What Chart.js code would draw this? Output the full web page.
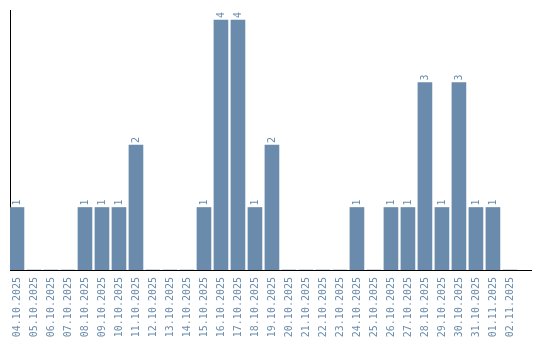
<!DOCTYPE html>
<html>
<head>
<meta charset="utf-8">
<script src="https://cdn.jsdelivr.net/npm/chart.js@4"></script>
<style>
  html, body { margin: 0; padding: 0; background: #fff; }
  #wrap { width: 540px; height: 340px; }
</style>
</head>
<body>
<div id="wrap"><canvas id="dayChart" width="540" height="340"></canvas></div>
<script>
const days = [
  "04.10.2025", "05.10.2025", "06.10.2025", "07.10.2025", "08.10.2025",
  "09.10.2025", "10.10.2025", "11.10.2025", "12.10.2025", "13.10.2025",
  "14.10.2025", "15.10.2025", "16.10.2025", "17.10.2025", "18.10.2025",
  "19.10.2025", "20.10.2025", "21.10.2025", "22.10.2025", "23.10.2025",
  "24.10.2025", "25.10.2025", "26.10.2025", "27.10.2025", "28.10.2025",
  "29.10.2025", "30.10.2025", "31.10.2025", "01.11.2025", "02.11.2025"
];
const counts = [
  1, 0, 0, 0, 1, 1, 1, 2, 0, 0,
  0, 1, 4, 4, 1, 2, 0, 0, 0, 0,
  1, 0, 1, 1, 3, 1, 3, 1, 1, 0
];

const barColor = "#6a8bab";
const textColor = "#6b8cac";
const monoFont = "'DejaVu Sans Mono', 'Liberation Mono', monospace";

// value labels above bars, rotated like the date labels
const valueLabels = {
  id: "valueLabels",
  afterDatasetsDraw(chart) {
    const ctx = chart.ctx;
    const meta = chart.getDatasetMeta(0);
    ctx.save();
    ctx.fillStyle = textColor;
    ctx.font = "10px " + monoFont;
    ctx.textAlign = "left";
    ctx.textBaseline = "middle";
    meta.data.forEach((bar, i) => {
      if (!counts[i]) return;
      ctx.save();
      ctx.translate(bar.x, bar.y - 2);
      ctx.rotate(-Math.PI / 2);
      ctx.fillText(String(counts[i]), 0, 0);
      ctx.restore();
    });
    ctx.restore();
  }
};

const points = days.map((d, i) => ({ x: i, y: counts[i] }));

new Chart(document.getElementById("dayChart"), {
  type: "bar",
  data: {
    datasets: [{
      data: points,
      backgroundColor: barColor,
      borderWidth: 0,
      barThickness: 14
    }]
  },
  options: {
    responsive: false,
    animation: false,
    layout: { padding: { left: 10, right: 9, top: 10, bottom: 0 } },
    plugins: { legend: { display: false }, tooltip: { enabled: false } },
    scales: {
      x: {
        type: "linear",
        offset: false,
        min: -0.41,
        max: 30.24,
        grid: { display: false, drawTicks: false },
        border: { display: true, color: "#000", width: 1 },
        afterFit(scale) {
          scale.height = 70;
          scale.paddingLeft = 0;
          scale.paddingRight = 0;
        },
        ticks: {
          stepSize: 1,
          includeBounds: false,
          autoSkip: false,
          minRotation: 90,
          maxRotation: 90,
          padding: 7,
          color: textColor,
          font: { family: monoFont, size: 10 },
          callback: (v) => (Number.isInteger(v) && days[v]) ? days[v] : ""
        }
      },
      y: {
        min: 0,
        max: 4.16,
        grid: { display: false, drawTicks: false },
        border: { display: true, color: "#000", width: 1 },
        ticks: { display: false },
        afterFit(scale) { scale.width = 0; }
      }
    }
  },
  plugins: [valueLabels]
});
</script>
</body>
</html>
